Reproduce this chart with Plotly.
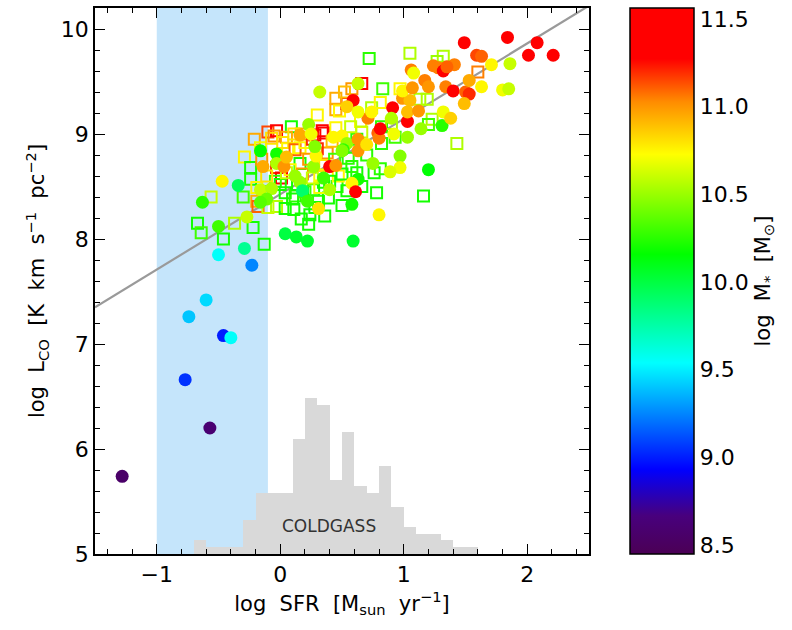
import plotly.graph_objects as go

# ---------------- data ----------------
# filled circles: log SFR, log L_CO, log M*
circ_sfr = [-1.28, -0.57, -0.77, -0.46, -0.40, -0.74, -0.60, -0.50, -0.23, -0.29,
            0.04, 0.13, 0.22, 0.59, -0.47, -0.34, -0.63, -0.50, -0.27, -0.16,
            -0.14, -0.16, -0.07, -0.11, -0.16, -0.03, -0.03, 0.03, 0.16, 0.23,
            0.16, 0.18, 0.22, 0.27, 0.29, 0.28, 0.40, 0.31, 0.40, 0.50,
            0.54, 0.51, 0.63, 0.63, 0.71, 0.74, 0.63, 0.58, 0.61, 0.58,
            0.80, 0.32, 0.63, 0.59, 0.54, 0.63, 0.91, 0.90, 1.03, 0.92,
            0.79, 0.80, 0.81, 0.50, 0.97, 0.97, 0.89, 1.20, 1.03, 1.14,
            1.31, 1.32, 1.38, 0.99, 1.05, 1.03, 1.12, 0.99, 1.07, 1.17,
            1.20, 1.34, 1.40, 1.50, 1.53, 1.49, 1.53, 1.63, 1.80, 1.85,
            1.06, 1.08, 1.24, 1.28, 1.32, 1.41, 1.35, 1.59, 1.63, 1.71,
            1.86, 1.49, 1.84, 2.08, 2.01, 2.21, 0.43, 0.05, 0.12, 0.35,
            0.45, 0.25, 0.70, 0.75]
circ_lco = [5.74, 6.20, 6.66, 7.08, 7.06, 7.26, 7.42, 7.85, 7.75, 7.91,
            8.05, 8.02, 7.98, 7.98, 8.55, 8.51, 8.35, 8.12, 8.21, 8.84,
            8.69, 8.47, 8.48, 8.38, 8.35, 8.81, 8.72, 8.69, 8.99, 9.09,
            8.54, 8.46, 8.36, 8.69, 8.79, 8.88, 8.69, 8.29, 8.47, 8.98,
            8.91, 8.85, 8.95, 8.84, 9.15, 9.21, 8.57, 8.53, 8.45, 8.33,
            8.23, 9.40, 9.48, 9.32, 9.26, 9.21, 9.25, 9.15, 9.12, 9.00,
            9.01, 8.96, 9.05, 8.84, 8.79, 8.68, 8.64, 8.66, 8.97, 9.05,
            9.08, 9.21, 9.15, 9.34, 9.32, 9.21, 9.22, 9.41, 9.44, 9.51,
            9.45, 9.45, 9.41, 9.40, 9.38, 9.29, 9.51, 9.45, 9.42, 9.43,
            9.61, 9.58, 9.65, 9.63, 9.60, 9.66, 9.64, 9.75, 9.74, 9.66,
            9.67, 9.87, 9.92, 9.87, 9.75, 9.75, 8.97, 8.78, 8.60, 8.58,
            8.70, 9.00, 8.90, 8.72]
circ_mass = [8.55, 8.60, 9.05, 9.00, 9.55, 9.40, 9.45, 9.55, 9.25, 9.80,
             10.00, 10.05, 10.05, 10.05, 10.75, 9.95, 10.25, 10.30, 10.60, 10.15,
             10.95, 10.60, 10.55, 10.40, 10.35, 10.20, 10.55, 11.00, 10.95, 10.50,
             10.50, 9.90, 10.30, 10.50, 10.75, 10.45, 11.35, 10.80, 10.55, 10.75,
             10.50, 10.25, 11.00, 11.00, 11.05, 10.75, 10.20, 10.75, 11.35, 10.20,
             10.75, 10.60, 10.60, 11.30, 10.85, 10.70, 11.35, 10.55, 11.30, 10.70,
             11.10, 11.05, 11.30, 10.45, 10.45, 10.70, 10.65, 10.15, 10.50, 10.50,
             10.25, 10.70, 10.85, 11.00, 10.90, 10.90, 11.00, 10.75, 11.00, 11.05,
             11.00, 11.05, 11.30, 11.10, 11.20, 10.90, 10.95, 10.75, 10.70, 10.60,
             11.05, 10.70, 11.05, 11.05, 11.35, 11.05, 11.10, 11.15, 11.10, 10.75,
             10.60, 11.40, 11.40, 11.40, 11.40, 11.35, 10.75, 10.90, 10.50, 10.30,
             11.00, 10.70, 10.80, 10.50]

# open squares: log SFR, log L_CO, log M*
sq_sfr = [-0.67, -0.64, -0.56, -0.46, -0.37, -0.22, -0.13, -0.29, -0.21, -0.24,
          -0.24, -0.10, -0.03, 0.09, 0.17, -0.16, -0.03, 0.01, -0.19, -0.18,
          -0.03, 0.04, 0.11, 0.00, -0.04, 0.04, 0.12, 0.17, 0.23, 0.27,
          0.31, 0.35, 0.46, 0.62, 0.66, 0.76, 0.78, 0.55, 0.32, 0.47,
          0.38, 0.16, 0.16, 0.23, 0.35, 0.26, 0.45, 0.54, 0.72, 1.05,
          1.32, 1.27, 1.60, 0.83, 0.97, 0.66, 0.58, 0.45, 0.48, 1.13,
          1.19, 1.23, 1.20, 1.43, 1.16, 0.81, 0.62, 0.82, 0.93, 0.74,
          0.45, 0.34, 0.28, 0.58, 0.54, 0.39, 0.81, 0.05, -0.19, 0.14,
          -0.10, 0.11, 0.82, 0.24, 0.32, 0.40, -0.07, 0.06, -0.15, 0.05,
          -0.11, 0.65, 0.57, -0.05, 0.02, 0.12, 0.20, 0.30, 0.42, 0.08,
          0.18, 0.26, 0.36, 0.44, 0.50, 0.10, 0.20, 0.28, 0.36, 0.50,
          0.70, 0.66, 0.90, 0.30, 0.52, -0.12, -0.30]
sq_lco = [8.15, 8.06, 8.40, 8.00, 8.15, 8.11, 7.95, 8.78, 8.95, 8.68,
          8.57, 9.02, 9.03, 9.07, 9.00, 8.87, 8.68, 8.58, 8.36, 8.31,
          8.31, 8.29, 8.28, 8.52, 8.55, 8.44, 8.41, 8.19, 8.14, 8.47,
          8.36, 8.54, 8.50, 8.63, 8.50, 8.63, 8.44, 8.77, 8.61, 8.60,
          8.82, 8.87, 8.72, 8.76, 9.01, 8.95, 9.23, 9.29, 9.72, 9.77,
          9.74, 9.69, 9.59, 9.43, 9.43, 9.48, 9.43, 9.34, 9.22, 9.33,
          9.33, 9.14, 9.09, 8.91, 8.41, 8.67, 8.95, 9.07, 8.97, 9.25,
          9.06, 9.03, 8.99, 8.69, 8.46, 8.39, 9.30, 8.97, 8.49, 8.52,
          8.30, 9.00, 8.91, 8.23, 8.49, 8.55, 8.96, 8.86, 8.76, 8.63,
          8.60, 9.12, 9.07, 8.98, 8.92, 8.85, 8.92, 8.86, 8.93, 8.66,
          8.62, 8.58, 8.70, 8.76, 8.62, 8.38, 8.45, 8.30, 8.22, 8.32,
          8.80, 9.02, 9.10, 9.18, 9.40, 8.45, 8.40]
sq_mass = [10.20, 10.30, 10.60, 10.20, 10.55, 10.20, 10.20, 10.75, 10.95, 10.20,
           10.20, 11.15, 11.30, 10.20, 10.95, 10.70, 11.20, 11.30, 10.95, 11.10,
           10.55, 10.20, 10.20, 10.20, 10.25, 10.20, 10.25, 10.20, 10.20, 10.20,
           10.25, 10.20, 10.25, 10.20, 10.20, 10.20, 10.20, 10.25, 10.75, 10.75,
           11.00, 10.75, 10.20, 11.00, 11.30, 11.20, 10.95, 11.30, 10.25, 10.55,
           10.55, 10.50, 11.05, 10.30, 10.75, 11.30, 11.00, 10.95, 10.75, 10.55,
           10.55, 10.55, 10.30, 10.55, 10.20, 10.25, 10.25, 10.25, 10.30, 10.55,
           10.75, 11.30, 11.30, 10.25, 10.20, 10.20, 10.75, 10.95, 10.75, 10.20,
           10.60, 10.80, 10.25, 10.20, 10.70, 10.20, 10.80, 10.75, 11.00, 10.60,
           10.80, 10.75, 10.60, 11.00, 10.80, 11.10, 10.75, 11.20, 10.90, 10.75,
           11.00, 10.60, 10.80, 10.30, 10.20, 10.20, 10.30, 10.20, 10.20, 10.20,
           10.25, 10.60, 10.55, 10.75, 10.90, 10.25, 10.30]

# COLDGASS log SFR histogram (bin left edges, counts)
hist_left = [-0.7, -0.6, -0.5, -0.4, -0.3, -0.2, -0.1, 0.0, 0.1, 0.2, 0.3, 0.4,
             0.5, 0.6, 0.7, 0.8, 0.9, 1.0, 1.1, 1.2, 1.3, 1.4, 1.5]
hist_counts = [2, 1, 1, 1, 5, 9, 9, 9, 17, 23, 22, 11, 18, 10, 9, 13, 7, 4, 3, 3, 2, 1, 1]
HIST_BIN = 0.1
HIST_SCALE = 0.0645   # counts -> log L_CO units for display
HIST_BASE = 5.0

# fitted relation
FIT_SLOPE = 0.718
FIT_INTERCEPT = 8.427

# shaded SFR range
band_x = [-1.0, -0.1]

x_range = [-1.5, 2.5]
y_range = [5.0, 10.2]
cbar_ticks = [8.5, 9.0, 9.5, 10.0, 10.5, 11.0, 11.5]
c_range = [8.449, 11.5625]

# ---------------- figure ----------------
FONT = "DejaVu Sans, Verdana, sans-serif"
SP = " \u00a0"  # wide word gap as in the original

colorscale = [
    [0.0, "rgb(75,0,85)"],
    [0.07, "rgb(72,0,125)"],
    [0.155, "rgb(0,0,255)"],
    [0.35, "rgb(0,255,255)"],
    [0.549, "rgb(0,255,0)"],
    [0.732, "rgb(255,255,0)"],
    [0.828, "rgb(255,140,0)"],
    [0.907, "rgb(255,0,0)"],
    [1.0, "rgb(255,0,0)"],
]

fig = go.Figure()

# histogram
fig.add_trace(go.Bar(
    x=[l + HIST_BIN / 2 for l in hist_left],
    y=[c * HIST_SCALE for c in hist_counts],
    base=HIST_BASE,
    width=HIST_BIN,
    marker=dict(color="#d9d9d9", line=dict(width=0)),
    showlegend=False, hoverinfo="skip",
))

# fit line
fig.add_trace(go.Scatter(
    x=x_range, y=[FIT_INTERCEPT + FIT_SLOPE * v for v in x_range],
    mode="lines", line=dict(color="#9a9a9a", width=2.2),
    showlegend=False, hoverinfo="skip",
))

# open squares
fig.add_trace(go.Scatter(
    x=sq_sfr, y=sq_lco, mode="markers",
    marker=dict(symbol="square-open", size=11, color=sq_mass, coloraxis="coloraxis",
                line=dict(width=2)),
    showlegend=False,
))

# filled circles
fig.add_trace(go.Scatter(
    x=circ_sfr, y=circ_lco, mode="markers",
    marker=dict(symbol="circle", size=13, color=circ_mass, coloraxis="coloraxis",
                line=dict(width=0)),
    showlegend=False,
))

fig.add_shape(type="rect", xref="x", yref="paper", x0=band_x[0], x1=band_x[1],
              y0=0, y1=1, fillcolor="#c5e5fb", line=dict(width=0), layer="below")

fig.add_annotation(x=0.396, y=5.264, xref="x", yref="y", text="COLDGASS",
                   showarrow=False, font=dict(size=17, color="#333333", family=FONT))

axis_common = dict(
    showgrid=False, zeroline=False, showline=True, linecolor="black", linewidth=1.6,
    mirror="ticks", ticks="inside", ticklen=10, tickwidth=1.3, tickcolor="black",
    tickfont=dict(size=22, color="black", family=FONT),
)

fig.update_xaxes(
    range=x_range, tickvals=[-1, 0, 1, 2], ticktext=["\u22121", "0", "1", "2"],
    minor=dict(dtick=0.2, tick0=0, ticks="inside", ticklen=5, tickcolor="black", tickwidth=1.2),
    title=dict(text=f"log{SP}SFR{SP}[M<sub>sun</sub>{SP}yr<sup>\u22121</sup>]",
               font=dict(size=21, color="black", family=FONT), standoff=10),
    **axis_common,
)
fig.update_yaxes(
    range=y_range, tickvals=[5, 6, 7, 8, 9, 10],
    minor=dict(dtick=0.2, tick0=5, ticks="inside", ticklen=5, tickcolor="black", tickwidth=1.2),
    title=dict(text=f"log{SP}L<sub>CO</sub>{SP}[K{SP}km{SP}s<sup>\u22121</sup>{SP}pc<sup>\u22122</sup>]",
               font=dict(size=21, color="black", family=FONT), standoff=10),
    **axis_common,
)

fig.update_layout(
    width=792, height=630,
    margin=dict(l=95, r=203, t=6, b=76),
    plot_bgcolor="white", paper_bgcolor="white",
    font=dict(family=FONT, color="black"),
    bargap=0,
    coloraxis=dict(
        cmin=c_range[0], cmax=c_range[1], colorscale=colorscale,
        colorbar=dict(
            x=1.083, xanchor="left", xpad=0, ypad=0,
            y=0.5, yanchor="middle", len=1.0, lenmode="fraction",
            thickness=64, outlinewidth=1.5, outlinecolor="black",
            tickvals=cbar_ticks, ticktext=[f"{v:.1f}" for v in cbar_ticks],
            ticks="", tickfont=dict(size=22, color="black", family=FONT),
            title=dict(text=f"log{SP}M<sub>*</sub>{SP}[M<sub>\u2299</sub>]", side="right",
                       font=dict(size=21, color="black", family=FONT)),
        ),
    ),
)

fig.write_html("out.html")
